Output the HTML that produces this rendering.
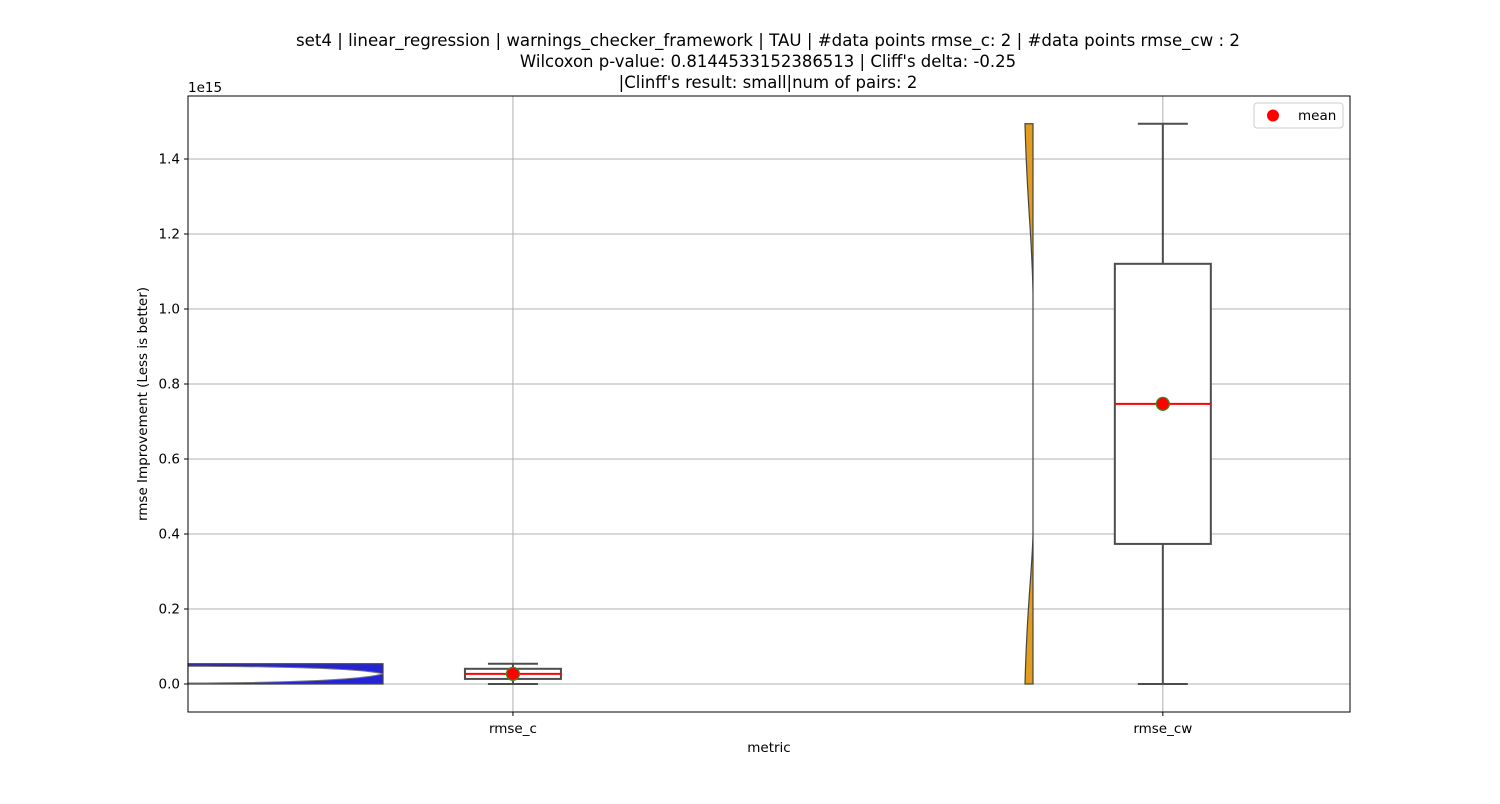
<!DOCTYPE html>
<html><head><meta charset="utf-8"><style>
body{margin:0;background:#fff;font-family:"DejaVu Sans","Liberation Sans",sans-serif;}
svg text{font-family:"DejaVu Sans","Liberation Sans",sans-serif;}
</style></head><body>
<svg id="chart" width="1500" height="800" xmlns="http://www.w3.org/2000/svg">
<text x="768" y="46" font-size="16.5" text-anchor="middle" textLength="944" lengthAdjust="spacingAndGlyphs">set4 | linear_regression | warnings_checker_framework | TAU | #data points rmse_c: 2 | #data points rmse_cw : 2</text>
<text x="768" y="67" font-size="16.5" text-anchor="middle">Wilcoxon p-value: 0.8144533152386513 | Cliff's delta: -0.25</text>
<text x="768" y="88" font-size="16.5" text-anchor="middle">|Clinff's result: small|num of pairs: 2</text>
<g id="grid"></g>
<g id="marks"></g>
<rect x="188" y="96" width="1162" height="616" fill="none" stroke="#000" stroke-width="1"/>
<g id="axes"></g>
<text x="188" y="92" font-size="13.5">1e15</text>
<text x="147" y="404" font-size="13.5" text-anchor="middle" transform="rotate(-90 147 404)">rmse Improvement (Less is better)</text>
<text x="769" y="752" font-size="13.5" text-anchor="middle">metric</text>
<g>
<rect x="1254" y="103" width="89" height="25" rx="3" fill="#fff" stroke="#ccc"/>
<circle cx="1273" cy="115.5" r="6" fill="red"/>
<text x="1298" y="120" font-size="13.5">mean</text>
</g>
</svg>
<script>
const categories = ["rmse_c","rmse_cw"];
const rmse_c = [0, 0.054];
const rmse_cw = [0, 1.494];
const yTicks = [0,0.2,0.4,0.6,0.8,1.0,1.2,1.4];
const yTickLabels = ["0.0","0.2","0.4","0.6","0.8","1.0","1.2","1.4"];

const NS="http://www.w3.org/2000/svg";
const X0=188,X1=1350,Y0=712,Y1=96;
const ymin=-0.0747,ymax=1.568,xmin=-0.5,xmax=1.288;
const ys=v=>Y0-(v-ymin)/(ymax-ymin)*(Y0-Y1);
const xs=i=>X0+(i-xmin)/(xmax-xmin)*(X1-X0);
function mk(tag,attrs,parent){const e=document.createElementNS(NS,tag);for(const k in attrs)e.setAttribute(k,attrs[k]);parent.appendChild(e);return e;}
const grid=document.getElementById('grid'),marks=document.getElementById('marks'),axes=document.getElementById('axes');

yTicks.forEach((t,i)=>{
  const y=ys(t);
  const g=mk('line',{x1:X0,x2:X1,y1:y,y2:y,stroke:'#b0b0b0','stroke-width':1},grid);
  
  
  mk('line',{x1:X0-4,x2:X0,y1:y,y2:y,stroke:'#000'},axes);
  const tx=mk('text',{x:X0-8,y:y+4.5,'font-size':13.5,'text-anchor':'end'},axes);
  tx.textContent=yTickLabels[i];
  
  
});
categories.forEach((c,i)=>{
  const x=xs(i);
  const g=mk('line',{x1:x,x2:x,y1:Y1,y2:Y0,stroke:'#b0b0b0','stroke-width':1},grid);
  
  
  mk('line',{x1:x,x2:x,y1:Y0,y2:Y0+4,stroke:'#000'},axes);
  const tx=mk('text',{x:x,y:Y0+21,'font-size':13.5,'text-anchor':'middle'},axes);
  tx.textContent=c;
  
  
});

// violins (hand-drawn to match the reference)
const vt=ys(rmse_c[1]),vbm=ys(rmse_c[0]);
const vb=mk('path',{d:`M${X0},${vt} L383,${vt} L383,${vbm} L${X0},${vbm} Z`,fill:'#2323d8',stroke:'#444','stroke-width':1.2},marks);


const mid=vbm+(vt-vbm)*0.5;
const vw=mk('path',{d:`M${X0},${vt+2.5} C330,${vt+3} 370,${mid-3} 383,${mid} C370,${mid+3.5} 330,${vbm-1.5} ${X0},${vbm-1} Z`,fill:'#fff',stroke:'#777','stroke-width':1},marks);


const t2=ys(rmse_cw[1]),b2=ys(rmse_cw[0]);
const v2=mk('path',{d:`M1025,${t2} L1033,${t2} L1033,${b2} L1025,${b2} C1027,${b2-80} 1032,${b2-110} 1033,${b2-150} L1033,${t2+170} C1032,${t2+110} 1027,${t2+80} 1025,${t2} Z`,fill:'#e29d1f',stroke:'#444','stroke-width':1.2},marks);



function quant(a,q){const s=[...a].sort((x,y)=>x-y);const p=(s.length-1)*q,l=Math.floor(p),h=Math.ceil(p);return s[l]+(s[h]-s[l])*(p-l);}
[rmse_c,rmse_cw].forEach((d,i)=>{
  const x=xs(i),hw=48,cw=25;
  const q1=quant(d,0.25),q3=quant(d,0.75),med=quant(d,0.5),mn=Math.min(...d),mx=Math.max(...d);
  const mean=d.reduce((a,b)=>a+b,0)/d.length;
  const st={stroke:'#4d4d4d','stroke-width':2,fill:'none'};
  const w1=mk('line',Object.assign({x1:x,x2:x,y1:ys(mn),y2:ys(q1)},st),marks);
  
  
  const w2=mk('line',Object.assign({x1:x,x2:x,y1:ys(q3),y2:ys(mx)},st),marks);
  
  
  const c1=mk('line',Object.assign({x1:x-cw,x2:x+cw,y1:ys(mn),y2:ys(mn)},st),marks);
  
  
  const c2=mk('line',Object.assign({x1:x-cw,x2:x+cw,y1:ys(mx),y2:ys(mx)},st),marks);
  
  
  const bx=mk('rect',Object.assign({x:x-hw,y:ys(q3),width:hw*2,height:ys(q1)-ys(q3)},st),marks);
  bx.setAttribute('fill','#fff');
  
  
  const m=mk('line',{x1:x-hw,x2:x+hw,y1:ys(med),y2:ys(med),stroke:'red','stroke-width':2},marks);
  
  
  const p=mk('circle',{cx:x,cy:ys(mean),r:6.5,fill:'red',stroke:'#3a8a2a','stroke-width':1.2},marks);
  
  
});
</script>
</body></html>
